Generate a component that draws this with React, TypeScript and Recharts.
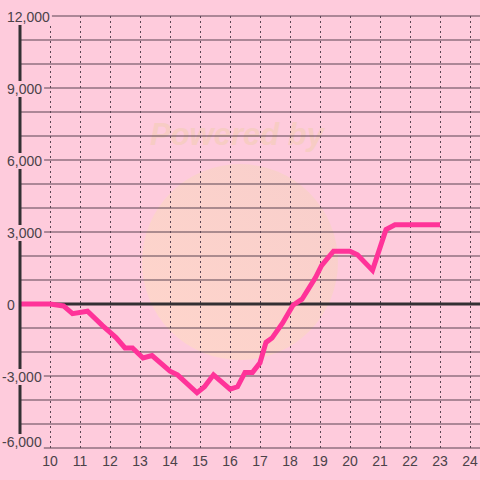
import React from 'react';
import { LineChart, Line, XAxis, YAxis, ReferenceLine } from 'recharts';

const times = [9, 10, 10.45, 10.75, 11.25, 11.75, 12.2, 12.5, 12.75, 13.1, 13.4, 14.0, 14.25, 14.9, 15.15, 15.45, 16.0, 16.25, 16.5, 16.75, 17.0, 17.2, 17.4, 17.75, 18.1, 18.4, 18.6, 18.85, 19.05, 19.45, 20.0, 20.25, 20.75, 21.2, 21.5, 23.0];
const values = [0, 0, -80, -400, -300, -900, -1400, -1830, -1830, -2250, -2150, -2800, -2950, -3700, -3450, -2950, -3550, -3450, -2850, -2850, -2450, -1600, -1420, -800, -50, 200, 600, 1100, 1600, 2200, 2200, 2050, 1400, 3100, 3300, 3300];
const xTicks = [10, 11, 12, 13, 14, 15, 16, 17, 18, 19, 20, 21, 22, 23, 24];
const yTicks = [-6000, -5000, -4000, -3000, -2000, -1000, 0, 1000, 2000, 3000, 4000, 5000, 6000, 7000, 8000, 9000, 10000, 11000, 12000];

const data = times.map((t, i) => ({ t, v: values[i] }));

const BG = '#fecbdc';
const TEXT = '#4b4249';
const GRID = '#5a4553';

const charW = (s: string) =>
  s.split('').reduce((w, c) => w + (c === ',' ? 3.9 : c === '-' ? 4.7 : 7.8), 0);

function YTick(props: any) {
  const { y, payload } = props;
  const v = payload.value;
  if (v % 3000 !== 0) return <g />;
  const label = v.toLocaleString('en-US');
  const x0 = v < 0 ? 2 : 7;
  const w = charW(label);
  const base = v === -6000 ? 447 : y + 6;
  const cy = base - 5;
  return (
    <g>
      <rect x={x0 - 1} y={cy - 8} width={w + 3} height={16} fill={BG} />
      <text x={x0} y={base} fontSize={14} fill={TEXT} fontFamily="'Liberation Sans', Arial, sans-serif">
        {label}
      </text>
    </g>
  );
}

function Watermark() {
  return (
    <svg width={480} height={480} style={{ position: 'absolute', left: 0, top: 0 }}>
      <defs>
        <linearGradient id="wm" x1="0" y1="1" x2="1" y2="0">
          <stop offset="0%" stopColor="#ffd9c6" />
          <stop offset="100%" stopColor="#f6cfc6" />
        </linearGradient>
      </defs>
      <circle cx={240} cy={262} r={98} fill="url(#wm)" opacity={0.75} />
      <text x={150} y={145} fontSize={31} fontWeight="bold" fontStyle="italic" fill="#f7ccc4" fontFamily="'Liberation Sans', Arial, sans-serif">
        Powered by
      </text>
    </svg>
  );
}

export default function App() {
  return (
    <div style={{ position: 'absolute', left: 0, top: 0, width: 480, height: 480, background: BG, overflow: 'hidden' }}>
      <Watermark />
      <div style={{ position: 'absolute', left: 0, top: 0 }}>
        <LineChart width={480} height={480} data={data} margin={{ top: 16, right: 0, left: 0, bottom: 0 }}>
          <XAxis
            type="number"
            dataKey="t"
            domain={[9, 24.3333]}
            ticks={xTicks}
            interval={0}
            allowDataOverflow
            axisLine={false}
            tickLine={false}
            height={32}
            tick={{ fontSize: 14, fill: TEXT, fontFamily: "'Liberation Sans', Arial, sans-serif" }}
          />
          <YAxis
            type="number"
            domain={[-6000, 12000]}
            ticks={yTicks}
            interval={0}
            width={20}
            tickLine={false}
            axisLine={{ stroke: '#333033', strokeWidth: 3 }}
            tick={(p: any) => <YTick {...p} />}
          />
          {yTicks.map((v) => (
            <ReferenceLine key={'h' + v} y={v} stroke={GRID} strokeWidth={1.2} />
          ))}
          {xTicks.map((t) => (
            <ReferenceLine key={'v' + t} x={t} stroke={GRID} strokeDasharray="2 3" shapeRendering="crispEdges" />
          ))}
          <ReferenceLine y={0} stroke="#333033" strokeWidth={3} />
          <Line
            type="linear"
            dataKey="v"
            stroke="#ff3399"
            strokeWidth={5}
            dot={false}
            isAnimationActive={false}
          />
        </LineChart>
      </div>
    </div>
  );
}
